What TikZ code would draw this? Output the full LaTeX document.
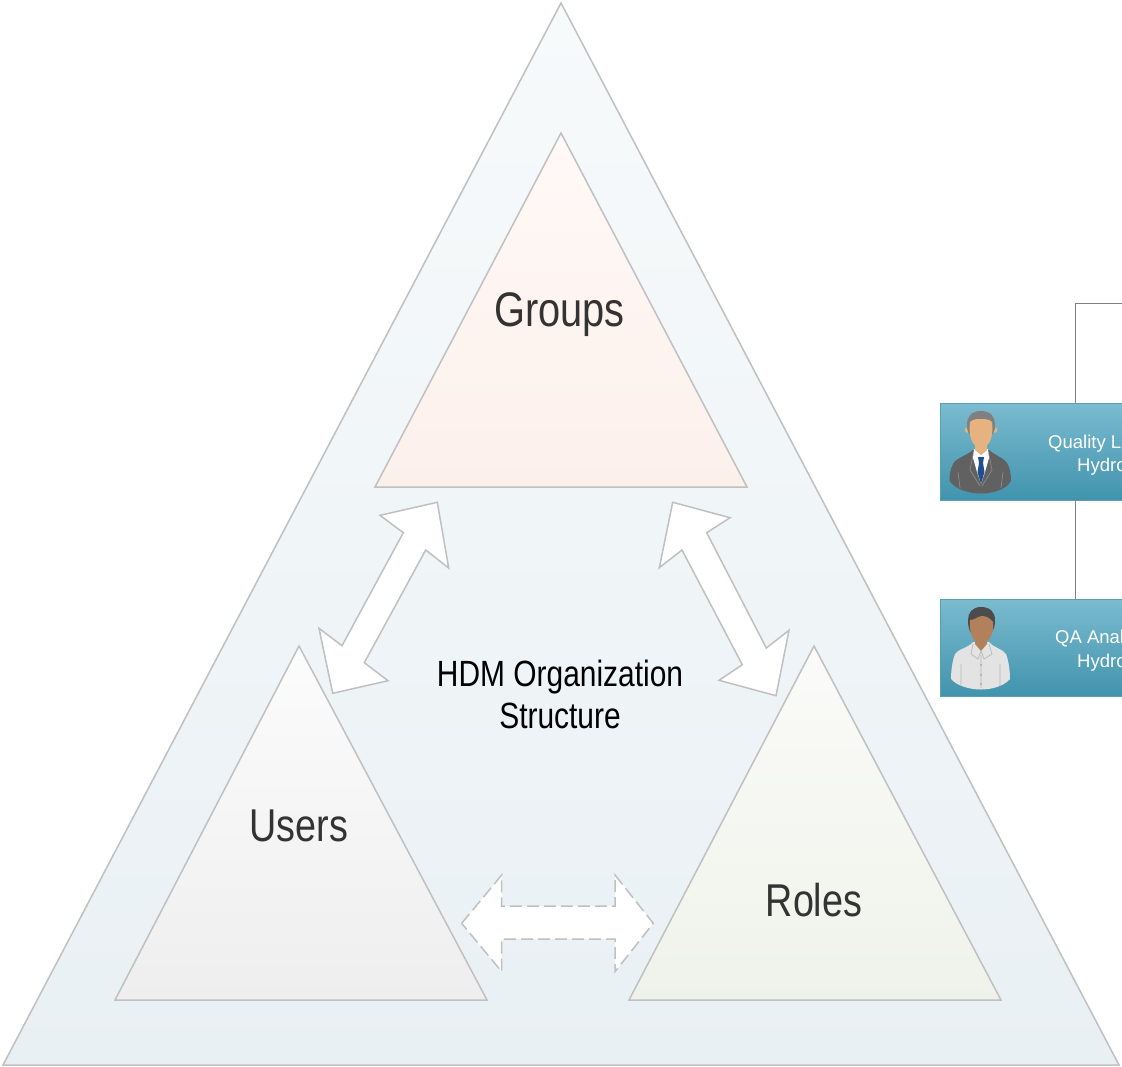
\documentclass[tikz,border=0pt]{standalone}
\usepackage{fontspec}
\setmainfont{Liberation Sans}
\newfontfamily\narrowf[FakeStretch=0.82]{Liberation Sans}
\definecolor{edgegrey}{HTML}{C0C0C0}
\definecolor{connector}{HTML}{808080}
\definecolor{labelgrey}{HTML}{333333}
\definecolor{boxtop}{HTML}{7ABBCF}
\definecolor{boxmid}{HTML}{43A1BE}
\definecolor{boxbot}{HTML}{4193AD}
\definecolor{boxedge}{HTML}{5AA0B4}
\definecolor{outertop}{HTML}{F7FAFB}
\definecolor{outerbot}{HTML}{E9F0F4}
\definecolor{groupstop}{HTML}{FFF9F7}
\definecolor{groupsbot}{HTML}{FCF0EB}
\definecolor{userstop}{HTML}{FCFCFC}
\definecolor{usersbot}{HTML}{EEEEEE}
\definecolor{rolestop}{HTML}{FBFBF9}
\definecolor{rolesbot}{HTML}{EFF2EA}
\definecolor{skinA}{HTML}{E6B27F}
\definecolor{skinB}{HTML}{B2805A}
\definecolor{tieblue}{HTML}{1F4F8F}
\tikzset{
  x=1pt,y=-1pt,
  tri/.style={draw=edgegrey,line width=1.5pt,line join=miter},
  flow/.style={draw=edgegrey,fill=white,line width=1.5pt,line join=miter},
  flowdash/.style={flow,dash pattern=on 12pt off 5pt},
  biglabel/.style={text=labelgrey,font=\narrowf\fontsize{46}{50}\selectfont,inner sep=0pt},
  orglabel/.style={text=black,align=center,font=\narrowf\fontsize{36.5}{42}\selectfont,inner sep=0pt},
  personbox/.style={draw=boxedge,top color=boxtop,middle color=boxmid,bottom color=boxbot,line width=1pt,
    minimum width=360pt,minimum height=97pt,inner sep=0pt,anchor=north west},
  boxtext/.style={text=white,anchor=base west,inner sep=0pt,font=\fontsize{18.5}{22}\selectfont},
  link/.style={draw=connector,line width=1pt},
}
\begin{document}
\begin{tikzpicture}
\clip (0,0) rectangle (1122,1066);
\fill[white] (0,0) rectangle (1122,1066);
% outer
\shade[tri,top color=outertop,bottom color=outerbot]
  (561,3) -- (1119,1065) -- (3,1065) -- cycle;
% inner triangles
\shade[tri,top color=groupstop,bottom color=groupsbot]
  (561,133) -- (747,487) -- (375,487) -- cycle;
\shade[tri,top color=userstop,bottom color=usersbot]
  (299,646) -- (487,1000) -- (115,1000) -- cycle;
\shade[tri,top color=rolestop,bottom color=rolesbot]
  (814,646) -- (1001,1000) -- (629,1000) -- cycle;
% labels
\node[biglabel,font=\narrowf\fontsize{48.5}{52}\selectfont] (groups) at (559.5,315) {Groups};
\node[biglabel] (users) at (299,826) {Users};
\node[biglabel] (roles) at (814,900) {Roles};
\node[orglabel] (org) at (560,694) {HDM Organization\\Structure};
% double arrows
\path[flow] (437.3,502.3) -- (380,515.3) -- (403.3,532.7) -- (342,645.7) -- (319,628.3) -- (332.7,693.3)
  -- (388,680.7) -- (364.3,662.7) -- (425.7,550) -- (448.7,568) -- cycle;
\path[flow] (672.7,502.3) -- (730,517.7) -- (706.7,532.7) -- (766.3,648) -- (789,630.3) -- (776,695.7)
  -- (719,680.3) -- (742.3,664.7) -- (682,550) -- (659.3,567.7) -- cycle;
\path[flowdash] (461.7,923.3) -- (501.7,875) -- (501.7,906) -- (615,906) -- (615,875) -- (653.3,923.3)
  -- (615,971.7) -- (615,939) -- (501.7,939) -- (501.7,971.7) -- cycle;
% boxes
\node[personbox] (lead) at (940,403) {};
\node[personbox] (qa) at (940,599) {};
\coordinate (top) at (1130,303);
\coordinate (leadtop) at (1075,403);
\coordinate (leadbot) at (1075,500);
\coordinate (qatop) at (1075,599);
\draw[link] (top) -- (1075,303) -- (leadtop);
\draw[link] (leadbot) -- (qatop);
\node[boxtext] (t1) at (1048,448) {Quality L};
\node[boxtext] (t2) at (1077,471) {Hydro};
\node[boxtext] (t3) at (1055,643) {QA Anal};
\node[boxtext] (t4) at (1077,667) {Hydro};
% suited man
\fill[black!62] (973,450) .. controls (966,456) and (956,458) .. (953,464) .. controls (950,470) and (949.5,476) .. (949.5,481)
  .. controls (956,490) and (970,493.5) .. (981,493.5) .. controls (992,493.5) and (1006,490) .. (1011,481)
  .. controls (1011,474) and (1010,468) .. (1007,463) .. controls (1004,458) and (996,456) .. (989,450) -- cycle;
\draw[black!45,line width=.7pt] (973.5,452) -- (970,470) -- (980,486) (988.5,452) -- (992,470) -- (982,486)
   (958,472) -- (960,488) (1003,472) -- (1001,488);
\fill[white] (974,449) -- (988,449) -- (989,458) -- (985,472) -- (981,484) -- (977,472) -- (973,458) -- cycle;
\fill[tieblue] (978,457) -- (984,457) -- (983,463) -- (984.5,472) -- (981,484) -- (977.5,472) -- (979,463) -- cycle;
\fill[skinA] (975,436) -- (987,436) -- (987,450) -- (981,455) -- (975,450) -- cycle;
\fill[skinA] (967.5,430) circle[radius=2.8] (994.5,430) circle[radius=2.8];
\fill[black!50] (981,411) .. controls (971,411) and (967,417) .. (967,425) .. controls (967,429) and (967.5,431) .. (969,434)
  -- (993,434) .. controls (994.5,431) and (995,429) .. (995,425) .. controls (995,417) and (991,411) .. (981,411) -- cycle;
\fill[skinA] (970,422) .. controls (973,419) and (977,419) .. (981,419) .. controls (985,419) and (989,419) .. (992,422)
  .. controls (993.5,434) and (991,447.5) .. (981,447.5) .. controls (971,447.5) and (968.5,434) .. (970,422) -- cycle;
% shirt man
\fill[black!11] (973,642) .. controls (968,648) and (958,649) .. (955,654) .. controls (952,662) and (951,672) .. (951,679)
  .. controls (957,686) and (970,689.5) .. (981,689.5) .. controls (992,689.5) and (1004,686) .. (1010,679)
  .. controls (1010,672) and (1009,662) .. (1006,654) .. controls (1003,649) and (994,648) .. (989,642) -- cycle;
\draw[black!28,line width=.7pt] (973,644) -- (971,654) -- (978,659) -- (981,651) -- (984,659) -- (992,654) -- (989,644)
  (981,655) -- (981,688) (961,664) -- (961,686) (1000,664) -- (1000,686);
\fill[black!40] (981,665) circle[radius=.9] (981,675) circle[radius=.9] (981,684) circle[radius=.9];
\fill[skinB] (975,634) -- (987,634) -- (987,644) -- (981,651) -- (975,644) -- cycle;
\fill[black!70] (981,607) .. controls (972,607) and (968,613) .. (968,620) .. controls (968,626) and (969,630) .. (971,633)
  -- (991,633) .. controls (994,630) and (995,626) .. (995,620) .. controls (995,612) and (990,607) .. (981,607) -- cycle;
\fill[skinB] (970,620) .. controls (975,620) and (978,616) .. (982,616) .. controls (986,616) and (990,618) .. (993,622)
  .. controls (994,632) and (991,642.5) .. (981,642.5) .. controls (972,642.5) and (969,632) .. (970,620) -- cycle;
\end{tikzpicture}
\end{document}
